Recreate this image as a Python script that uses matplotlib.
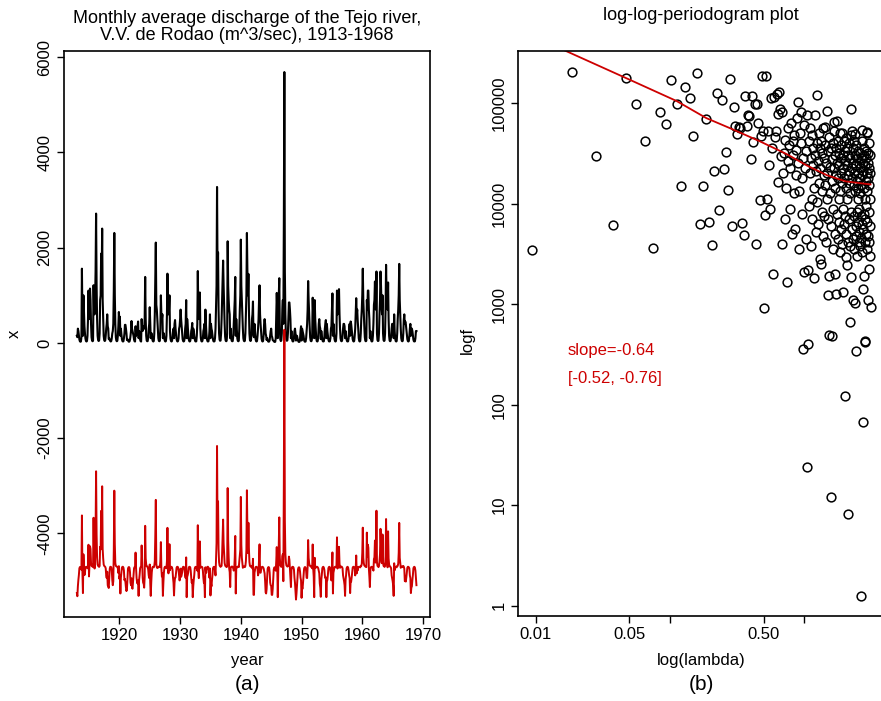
import numpy as np
import matplotlib
matplotlib.use("Agg")
import matplotlib.pyplot as plt

plt.rcParams['font.family'] = ['Liberation Sans', 'DejaVu Sans']

RED = '#CD0000'

# monthly discharge, one row per year (Jan..Dec), 1913-1968
start_year = 1913
discharge = [
    [150, 120, 300, 250, 150, 70, 35, 25, 30, 120, 1560, 500],    # 1913
    [150, 1000, 700, 350, 200, 90, 40, 30, 40, 150, 500, 1100],   # 1914
    [500, 800, 1142, 900, 400, 120, 50, 35, 45, 1212, 700, 600],  # 1915
    [900, 1500, 2717, 1200, 500, 150, 60, 40, 50, 200, 900, 1000],
    [1877, 1300, 2402, 900, 500, 150, 60, 40, 50, 150, 300, 400],
    [600, 350, 300, 80, 100, 60, 40, 30, 40, 100, 200, 250],
    [400, 1100, 2310, 1000, 400, 120, 50, 35, 45, 150, 350, 650],
    [450, 550, 150, 300, 200, 80, 40, 30, 35, 100, 200, 380],     # 1920
    [380, 300, 200, 60, 80, 60, 30, 25, 30, 70, 150, 250],
    [460, 300, 250, 200, 150, 70, 35, 30, 350, 150, 250, 300],
    [350, 450, 100, 250, 150, 70, 35, 30, 500, 300, 250, 300],
    [350, 300, 500, 1386, 500, 150, 50, 35, 40, 120, 300, 400],
    [750, 400, 100, 200, 200, 80, 40, 30, 40, 200, 600, 1300],
    [2108, 800, 700, 500, 300, 100, 45, 35, 45, 300, 1000, 600],
    [500, 600, 100, 200, 200, 80, 40, 30, 40, 150, 600, 1455],
    [700, 600, 700, 1000, 250, 90, 40, 30, 40, 120, 250, 300],
    [100, 400, 480, 300, 200, 80, 40, 30, 40, 100, 300, 350],
    [500, 700, 500, 350, 200, 80, 40, 30, 40, 100, 300, 400],     # 1930
    [900, 100, 500, 350, 200, 80, 40, 30, 40, 100, 250, 300],
    [420, 100, 300, 250, 150, 70, 35, 30, 35, 150, 400, 1510],
    [600, 500, 800, 1060, 300, 100, 40, 30, 40, 100, 250, 300],
    [400, 100, 700, 400, 200, 80, 40, 30, 35, 100, 250, 600],
    [100, 400, 300, 250, 150, 70, 35, 30, 35, 100, 300, 800],
    [1200, 3276, 1500, 1900, 700, 200, 70, 45, 50, 200, 500, 900],
    [1300, 1730, 1200, 800, 400, 130, 50, 35, 45, 200, 2135, 1200],
    [900, 700, 600, 100, 300, 100, 45, 35, 40, 150, 400, 600],
    [900, 1386, 150, 500, 300, 100, 45, 35, 45, 300, 700, 1000],
    [2170, 1200, 900, 600, 300, 100, 45, 35, 45, 200, 600, 1000], # 1940
    [2310, 1500, 1000, 1450, 700, 200, 60, 40, 50, 200, 500, 600],
    [870, 150, 120, 400, 250, 90, 40, 30, 40, 150, 300, 500],
    [900, 1210, 600, 400, 250, 90, 40, 30, 40, 150, 400, 500],
    [400, 200, 150, 60, 100, 60, 30, 25, 30, 60, 150, 250],
    [300, 150, 120, 60, 50, 40, 25, 20, 25, 100, 600, 1050],
    [700, 100, 600, 1000, 1360, 300, 70, 40, 50, 200, 700, 900],
    [400, 2500, 5690, 1500, 600, 200, 70, 45, 55, 200, 500, 850],
    [850, 700, 500, 100, 250, 90, 40, 30, 40, 120, 250, 300],
    [200, 50, 150, 150, 100, 50, 25, 20, 25, 80, 250, 350],
    [50, 300, 250, 200, 150, 60, 30, 25, 30, 100, 250, 400],      # 1950
    [700, 1300, 900, 600, 350, 120, 45, 35, 45, 150, 950, 600],
    [500, 100, 900, 500, 300, 100, 40, 30, 40, 150, 400, 500],
    [350, 300, 80, 250, 150, 70, 35, 30, 35, 120, 300, 400],
    [480, 100, 400, 250, 150, 70, 35, 30, 35, 100, 300, 350],
    [700, 1040, 150, 400, 250, 90, 40, 30, 40, 200, 1100, 600],
    [700, 900, 1130, 600, 300, 100, 45, 35, 45, 150, 300, 400],
    [400, 350, 100, 250, 150, 70, 35, 30, 35, 100, 300, 400],
    [150, 450, 400, 300, 200, 80, 40, 30, 40, 150, 300, 600],
    [940, 600, 700, 450, 300, 100, 40, 30, 40, 200, 500, 700],
    [1000, 1560, 900, 600, 350, 120, 45, 35, 45, 900, 700, 1100], # 1960
    [1100, 700, 500, 100, 250, 90, 40, 30, 40, 150, 400, 800],
    [900, 1290, 800, 700, 1500, 200, 60, 40, 45, 200, 600, 900],
    [1500, 1200, 800, 600, 1000, 200, 60, 40, 50, 200, 700, 1640],
    [1000, 900, 700, 1270, 500, 150, 50, 35, 45, 150, 300, 400],
    [400, 350, 100, 600, 250, 90, 40, 30, 40, 200, 500, 700],
    [1000, 1660, 900, 600, 300, 100, 45, 35, 45, 200, 480, 600],
    [400, 450, 400, 300, 200, 80, 40, 30, 40, 150, 300, 400],
    [150, 300, 300, 250, 150, 70, 35, 30, 35, 100, 250, 250],     # 1968
]
red_offset = -4700

# log10 of periodogram ordinates at Fourier frequencies 2*pi*k/672, k = 1..336
log_periodogram = [
    3.54, 5.31, 4.47, 3.79, 5.25, 4.99, 4.62, 3.56, 4.91, 4.79,
    5.23, 4.99, 4.17, 5.16, 5.05, 4.67, 5.30, 3.80, 4.17, 4.84,
    3.82, 3.59, 4.32, 5.10, 3.94, 5.03, 4.34, 4.51, 4.13, 5.24,
    3.78, 4.96, 4.77, 4.69, 4.76, 4.75, 3.81, 3.69, 5.07, 4.77,
    4.88, 4.87, 4.44, 5.07, 4.61, 4.99, 3.60, 4.99, 4.80, 4.04,
    4.67, 5.27, 4.72, 2.96, 3.89,
    5.27, 4.05, 4.72, 4.38, 3.95, 5.05, 4.55, 3.30, 5.06, 4.66, 4.72, 5.09, 4.89, 4.21, 5.11, 4.94, 4.47, 3.60, 4.91, 4.30,
    4.50, 3.85, 4.63, 4.15, 3.22, 4.75, 4.42, 4.58, 3.95, 4.35, 4.80, 3.70, 4.48, 4.62, 4.10, 4.68, 3.75, 4.53, 4.28, 4.85,
    4.40, 5.01, 4.12, 3.55, 4.70, 4.60, 4.91, 4.25, 3.90, 4.45, 2.55, 3.32, 4.78, 4.35, 3.65, 4.52, 4.88, 1.38, 3.34, 2.60,
    4.62, 3.98, 4.30, 4.75, 3.58, 4.45, 4.05, 4.68, 3.85, 4.38, 4.55, 3.26, 4.15, 4.88, 4.48, 3.72, 4.32, 4.60, 4.02, 5.08,
    4.42, 3.80, 4.70, 4.20, 3.45, 4.55, 4.35, 3.40, 4.62, 4.12, 3.92, 4.50, 4.75, 3.68, 4.28, 4.45, 3.88, 4.76, 4.18, 4.58,
    3.62, 4.40, 4.92, 4.05, 4.30, 3.09, 4.52, 3.85, 4.66, 2.69, 3.28, 4.36, 4.10, 4.55, 1.08, 3.78, 2.68, 4.44, 4.22, 3.95,
    4.60, 3.55, 4.35, 4.72, 4.81, 3.70, 3.30, 4.48, 4.15, 3.10, 4.55, 4.28, 4.82, 3.90, 4.40, 4.62, 3.65, 4.25, 4.05, 4.50,
    3.82, 4.38, 4.70, 4.12, 3.52, 4.45, 3.75, 4.58, 4.30, 4.70, 3.60, 4.20, 4.48, 3.95, 3.12, 4.35, 4.62, 3.80, 4.25, 4.52,
    3.88, 4.42, 2.09, 3.47, 4.15, 4.65, 3.70, 4.38, 4.05, 4.55, 3.39, 4.28, 3.62, 4.48, 0.91, 4.20, 3.85, 4.60, 4.32, 3.58,
    2.82, 4.45, 4.10, 4.68, 3.27, 4.94, 3.92, 4.35, 4.72, 3.75, 4.25, 4.55, 3.65, 4.40, 3.04, 4.18, 3.88, 4.62, 4.30, 3.55,
    4.69, 3.01, 4.48, 4.12, 3.78, 2.53, 4.38, 3.68, 4.58, 4.22, 3.92, 4.45, 3.48, 4.30, 4.05, 3.82, 4.52, 4.15, 3.62, 4.40,
    3.95, 4.25, 3.72, 4.50, 4.10, 3.58, 4.35, 0.10, 3.88, 4.45, 4.18, 3.66, 4.62, 3.80, 4.73, 4.28, 3.52, 4.40, 1.83, 3.15,
    4.32, 3.75, 4.55, 3.28, 4.15, 3.90, 4.48, 2.63, 3.62, 4.38, 4.05, 2.62, 3.85, 4.52, 4.22, 3.70, 4.45, 3.98, 4.30, 3.55,
    4.70, 4.12, 4.71, 3.82, 4.40, 3.68, 4.25, 3.04, 4.50, 3.92, 4.35, 3.62, 4.60, 3.35, 4.18, 3.78, 4.48, 4.05, 3.48, 4.30, 2.97,
]
n_obs = 672

# smoothed fit through the log-log periodogram (frequency index k, log10 value)
smooth_k = [1, 5, 12, 20, 30, 50, 80, 112, 160, 220, 336]
smooth_log = [5.67, 5.25, 5.02, 4.85, 4.75, 4.62, 4.49, 4.38, 4.28, 4.22, 4.19]

slope_text = "slope=-0.64"
ci_text = "[-0.52, -0.76]"

# ---- derived
x = np.array(discharge, dtype=float)
t = start_year + np.arange(x.size) / 12
anom = (x - x.mean(axis=0)).ravel() + red_offset
x = x.ravel()

nf = len(log_periodogram)
lam = 2 * np.pi * np.arange(1, nf + 1) / n_obs
pgram = 10 ** np.array(log_periodogram)
lam_s = 2 * np.pi * np.array(smooth_k) / n_obs
pg_s = 10 ** np.array(smooth_log)

W, H = 881, 701
fig = plt.figure(figsize=(W / 100, H / 100), dpi=100)

ax1 = fig.add_axes([63.5 / W, 1 - 617 / H, (430 - 63.5) / W, (617 - 51) / H])
ax1.plot(t, x, color='black', lw=1.5)
ax1.plot(t, anom, color=RED, lw=1.4)
ax1.set_xlim(1910.8, 1971.15)
ax1.set_ylim(-5757, 6132)
ax1.set_xticks(range(1920, 1971, 10))
ax1.set_yticks(range(-4000, 6001, 2000))
ax1.set_yticklabels([str(v) for v in range(-4000, 6001, 2000)], rotation=90, va='center')

ax2 = fig.add_axes([518.3 / W, 1 - 616.3 / H, (884 - 518.3) / W, (616.3 - 50.7) / H])
ax2.plot(lam, pgram, 'o', mfc='none', mec='black', ms=6.3, mew=1.1)
ax2.plot(lam_s, pg_s, color=RED, lw=1.3)
ax2.set_xscale('log')
ax2.set_yscale('log')
ax2.set_xlim(0.00741, 3.96)
ax2.set_ylim(10 ** -0.105, 10 ** 5.52)
ax2.set_xticks([0.01, 0.05, 0.1, 0.5, 1.0])
ax2.set_xticklabels(['0.01', '0.05', '', '0.50', ''])
ax2.set_yticks([1, 10, 100, 1000, 10000, 100000])
ax2.set_yticklabels(['1', '10', '100', '1000', '10000', '100000'], rotation=90, va='center')
ax2.minorticks_off()

for ax in (ax1, ax2):
    ax.tick_params(direction='out', length=5, width=1, labelsize=12, pad=3)
    for s in ax.spines.values():
        s.set_linewidth(1.2)

fig.text(247 / W, 1 - 27 / H, "Monthly average discharge of the Tejo river,\nV.V. de Rodao (m^3/sec), 1913-1968",
         ha='center', va='center', fontsize=13, linespacing=0.95)
fig.text(701 / W, 1 - 16 / H, "log-log-periodogram plot", ha='center', va='center', fontsize=13)
fig.text(247 / W, 1 - 660 / H, "year", ha='center', va='center', fontsize=12)
fig.text(701 / W, 1 - 660 / H, "log(lambda)", ha='center', va='center', fontsize=12)
fig.text(247 / W, 1 - 684 / H, "(a)", ha='center', va='center', fontsize=15)
fig.text(701 / W, 1 - 684 / H, "(b)", ha='center', va='center', fontsize=15)
fig.text(14 / W, 1 - 334 / H, "x", ha='center', va='center', fontsize=12, rotation=90)
fig.text(467 / W, 1 - 340 / H, "logf", ha='center', va='center', fontsize=12, rotation=90)
fig.text(568 / W, 1 - 350 / H, slope_text, ha='left', va='center', fontsize=12, color=RED)
fig.text(568 / W, 1 - 379 / H, ci_text, ha='left', va='center', fontsize=12, color=RED)

fig.savefig("out.png", dpi=100)
